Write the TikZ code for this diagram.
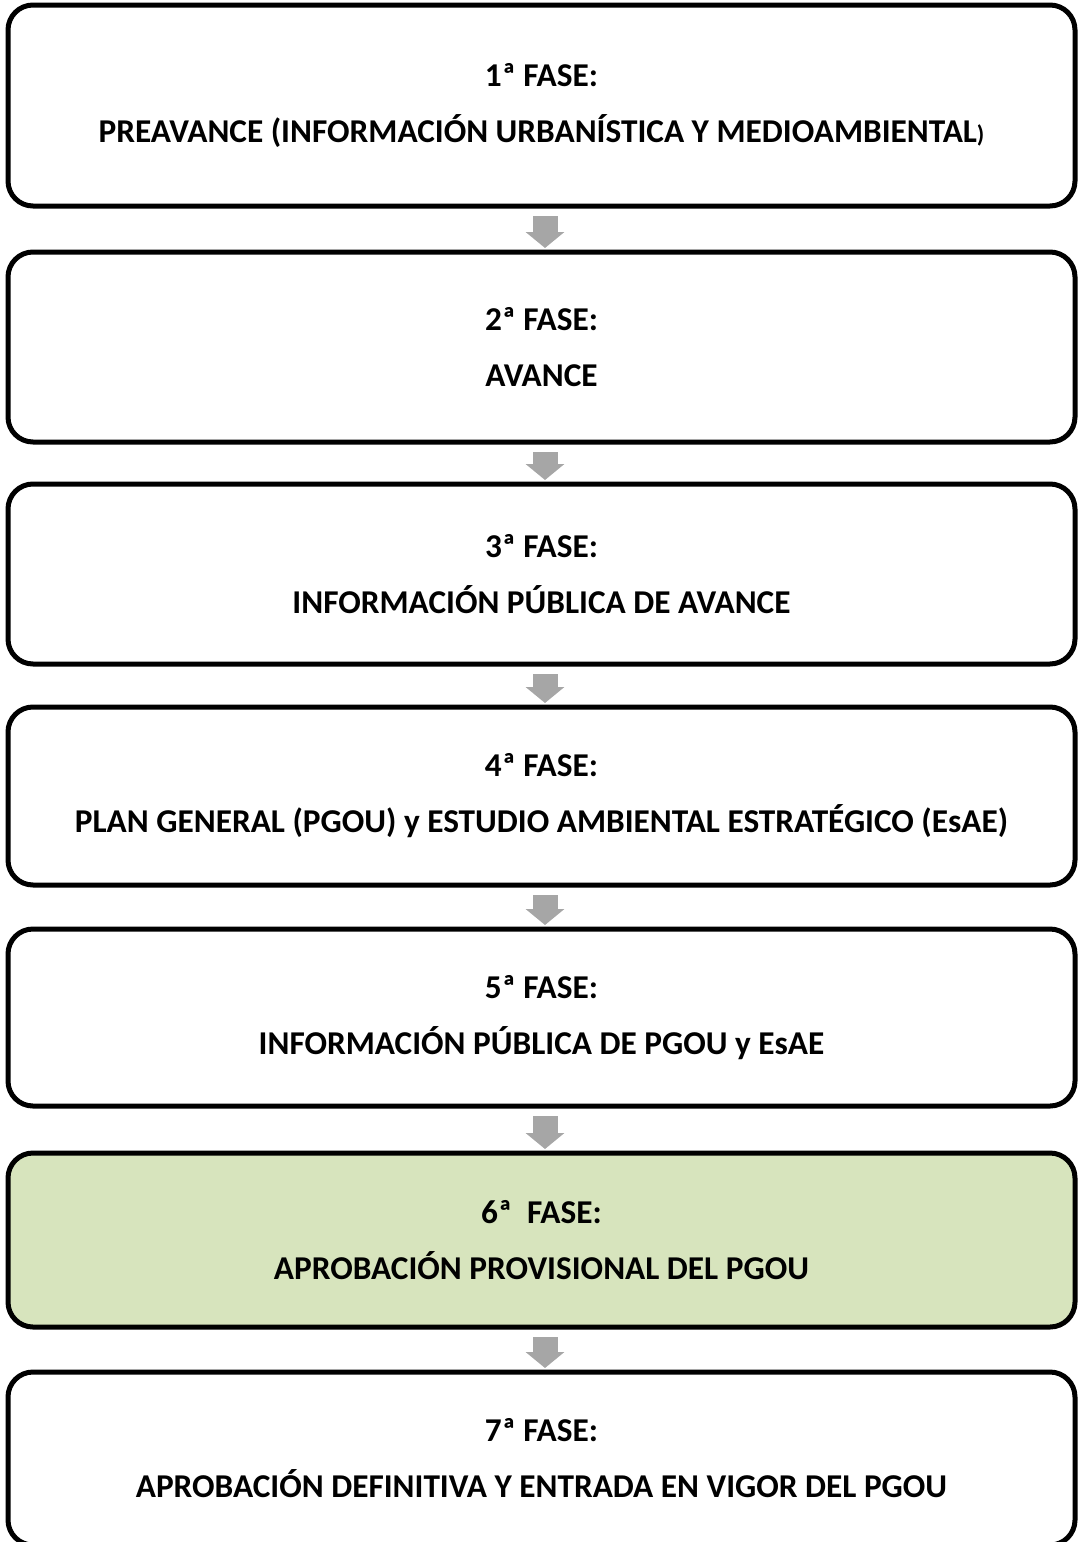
\documentclass[tikz,border=0pt]{standalone}
\usepackage{fontspec}
\setmainfont{Carlito}
\usetikzlibrary{arrows.meta}
\definecolor{verdefase}{HTML}{D7E4BD}
\definecolor{grisflecha}{HTML}{A6A6A6}
\begin{document}
\begin{tikzpicture}[x=1pt,y=-1pt]
      \tikzstyle{fase} = [draw=black, line width=5pt, rounded corners=25pt, minimum width=1067pt, inner sep=0pt, outer sep=0pt, align=center, font=\fontsize{33.3}{56}\selectfont\bfseries]
      \tikzstyle{flecha} = [draw=grisflecha, line width=25pt, -{Triangle[width=38pt,length=16pt]}, shorten <=10pt, shorten >=4pt]
      \clip (0,0) rectangle (1078,1542);
      \useasboundingbox (0,0) rectangle (1078,1542);
      \node[fase, minimum height=201pt] (f1) at (541.5,105.5) {\raisebox{-3pt}{1ª FASE:}\\\raisebox{-3pt}{PREAVANCE (INFORMACIÓN URBANÍSTICA Y MEDIOAMBIENTAL{\fontsize{24}{24}\selectfont)}}};
      \node[fase, minimum height=190pt] (f2) at (541.5,347) {2ª FASE:\\AVANCE};
      \node[fase, minimum height=180pt] (f3) at (541.5,574) {3ª FASE:\\INFORMACIÓN PÚBLICA DE AVANCE};
      \node[fase, minimum height=178pt] (f4) at (541.5,796) {4ª FASE:\\PLAN GENERAL (PGOU) y ESTUDIO AMBIENTAL ESTRATÉGICO (EsAE)};
      \node[fase, minimum height=177pt] (f5) at (541.5,1017.5) {5ª FASE:\\INFORMACIÓN PÚBLICA DE PGOU y EsAE};
      \node[fase, fill=verdefase, minimum height=174pt] (f6) at (541.5,1240) {6ª\ \ FASE:\\APROBACIÓN PROVISIONAL DEL PGOU};
      \node[fase, minimum height=173pt] (f7) at (541.5,1458.5) {7ª FASE:\\APROBACIÓN DEFINITIVA Y ENTRADA EN VIGOR DEL PGOU};

      \draw[flecha] ([xshift=3.5pt]f1.south) to ([xshift=3.5pt]f2.north);
      \draw[flecha] ([xshift=3.5pt]f2.south) to ([xshift=3.5pt]f3.north);
      \draw[flecha] ([xshift=3.5pt]f3.south) to ([xshift=3.5pt]f4.north);
      \draw[flecha] ([xshift=3.5pt]f4.south) to ([xshift=3.5pt]f5.north);
      \draw[flecha] ([xshift=3.5pt]f5.south) to ([xshift=3.5pt]f6.north);
      \draw[flecha] ([xshift=3.5pt]f6.south) to ([xshift=3.5pt]f7.north);
\end{tikzpicture}
\end{document}
